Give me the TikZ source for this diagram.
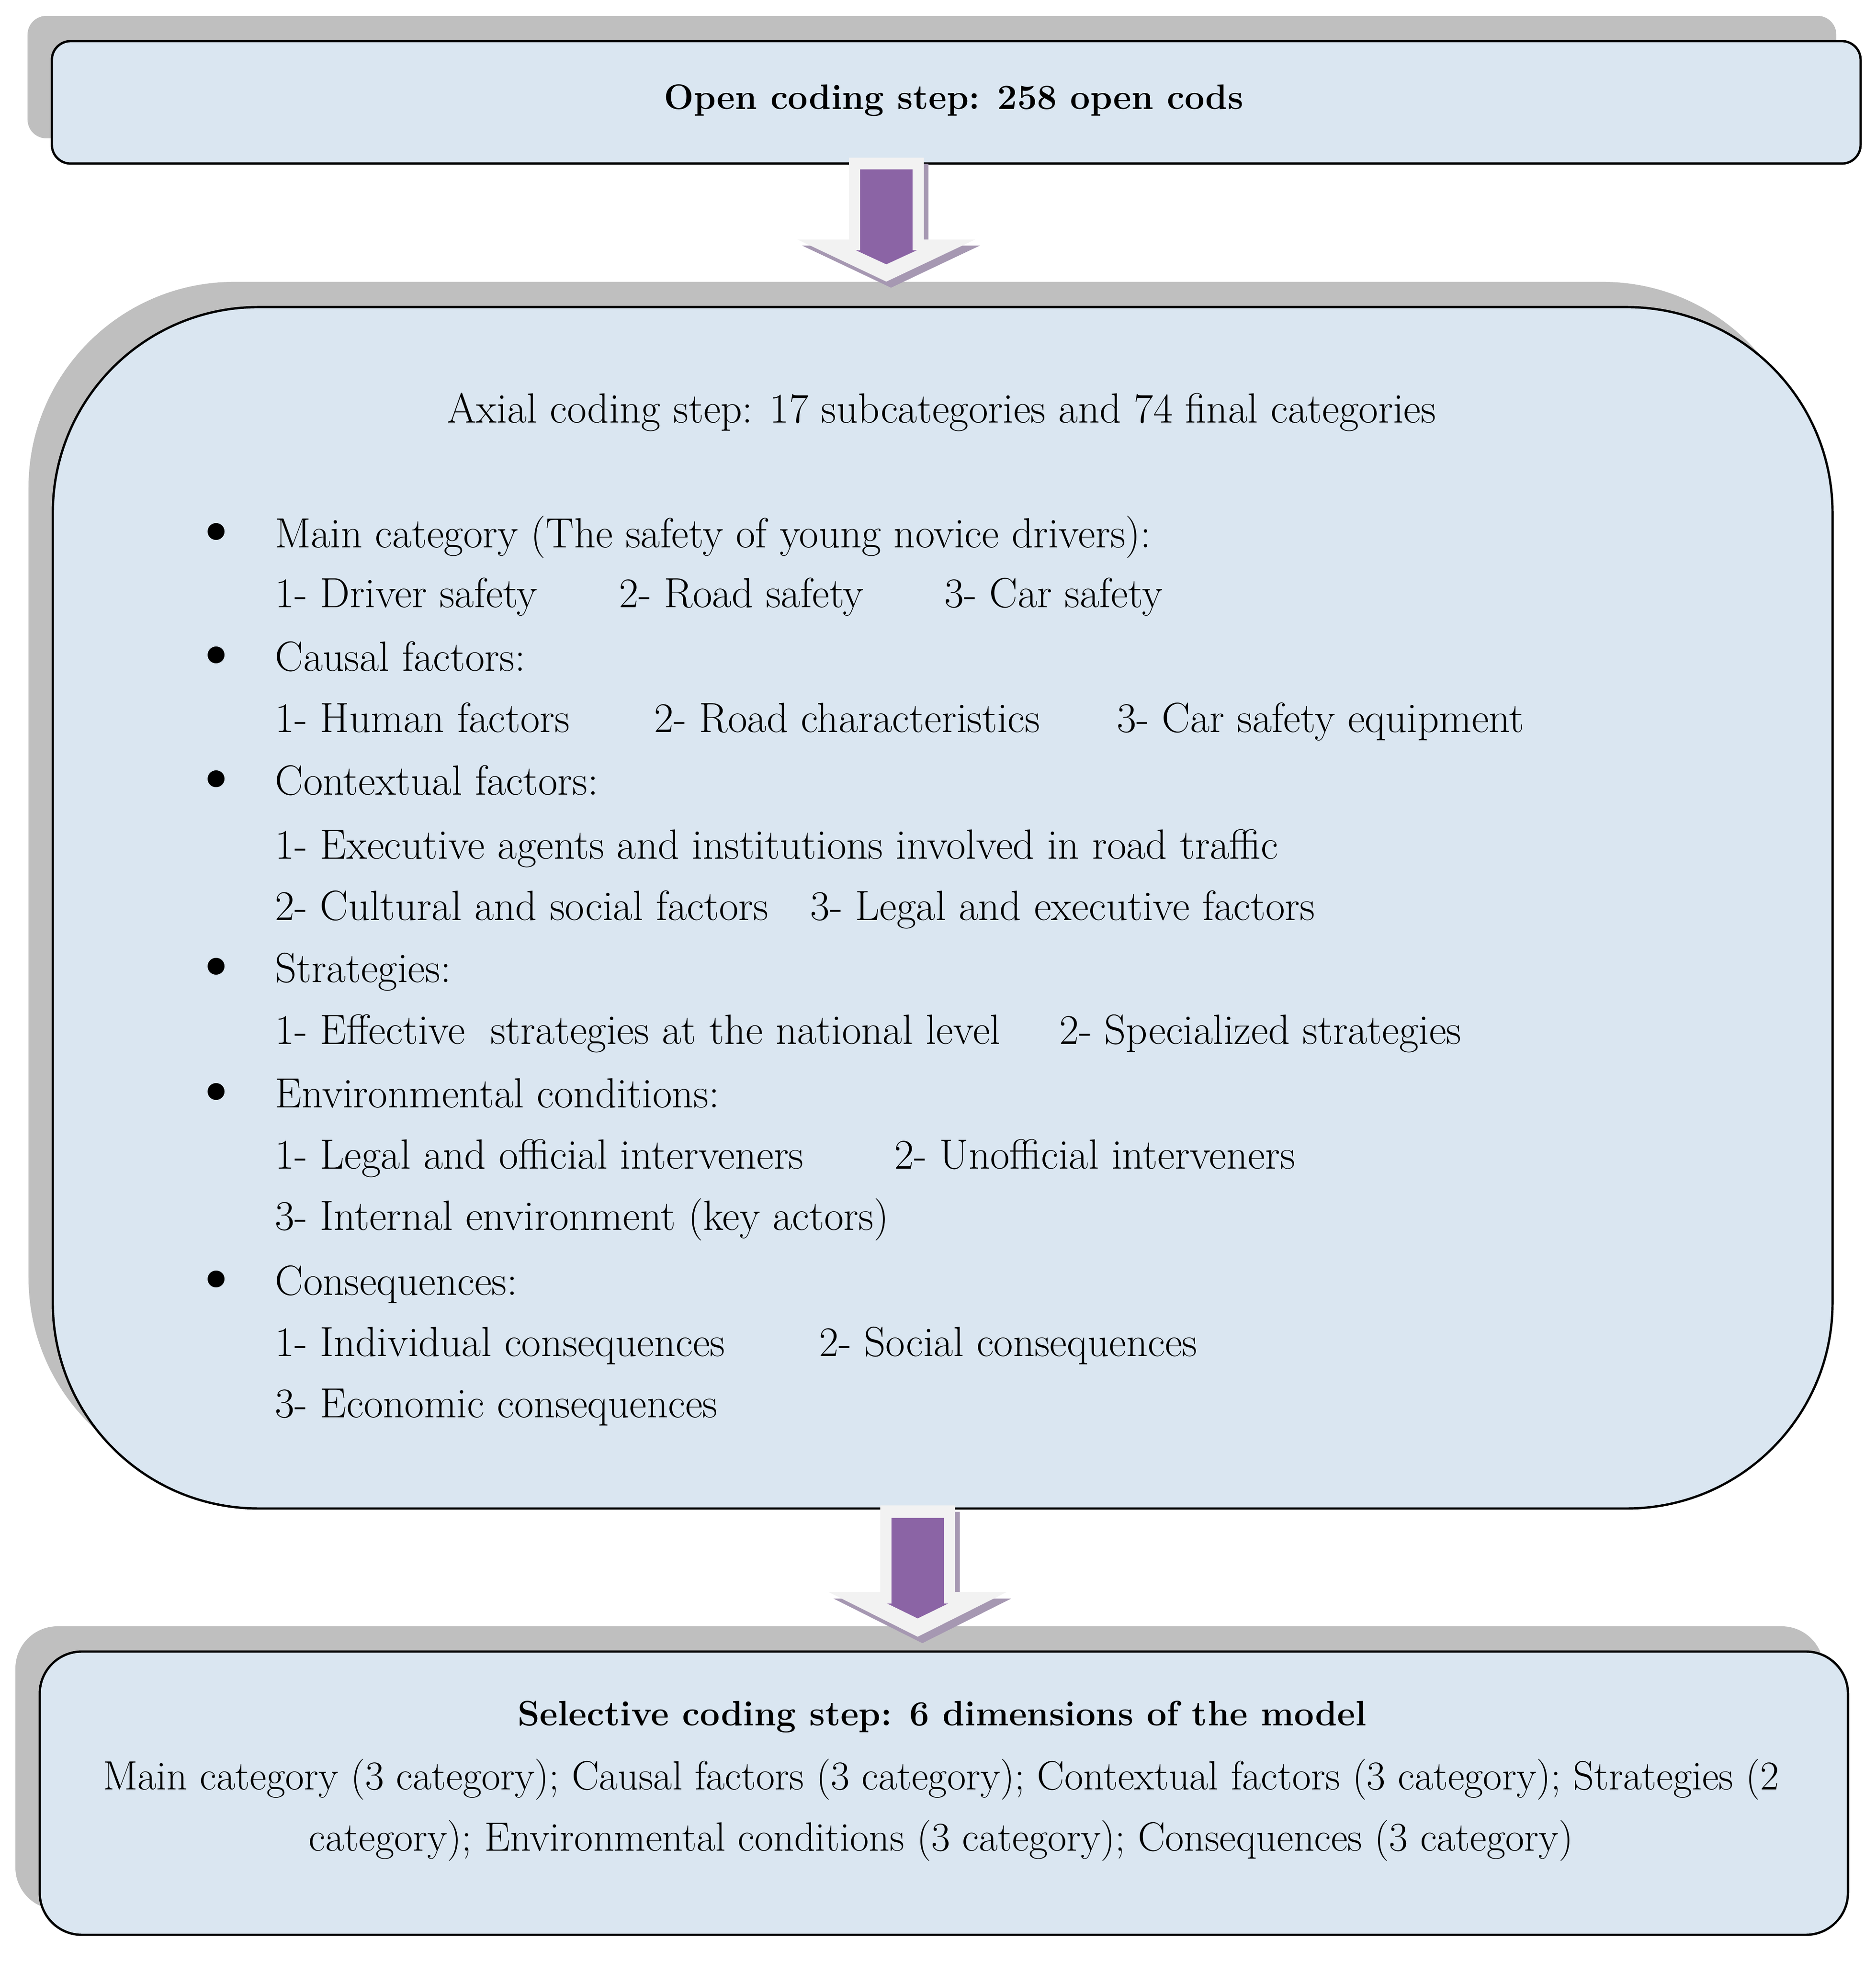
\documentclass[tikz,border=0pt]{standalone}
\usepackage{xcolor}
\usepackage{tikz}
\usetikzlibrary{shapes,arrows,positioning,calc,shadows}

\definecolor{boxblue}{RGB}{218,230,241}
\definecolor{boxshadow}{RGB}{191,191,191}
\definecolor{arrowlight}{RGB}{242,242,242}
\definecolor{arrowpurple}{RGB}{139,100,165}
\definecolor{arrowshade}{RGB}{166,152,178}
\newcommand{\bodyfont}{\fontsize{25.7}{37}\selectfont}
\newcommand{\selfont}{\fontsize{24.9}{37}\selectfont}
\newcommand{\headfont}{\fontsize{21.5}{37}\selectfont\bfseries}
\newcommand{\dotfont}{\fontsize{46}{46}\selectfont}

\tikzset{
  codebox/.style={draw=black, line width=1.4pt, fill=boxblue, inner sep=0pt,
    drop shadow={shadow xshift=-0.52cm, shadow yshift=0.54cm, fill=boxshadow, opacity=1}},
  itemtext/.style={anchor=base west, inner sep=0pt, font=\bodyfont},
  centertext/.style={anchor=base, inner sep=0pt, font=\bodyfont},
  titletext/.style={anchor=base, inner sep=0pt, font=\headfont},
  bulletmark/.style={anchor=center, inner sep=0pt, font=\dotfont},
}

\begin{document}
\begin{tikzpicture}
\useasboundingbox (0,0) rectangle (40.12,41.95);

% the three coding steps
\node[codebox, rounded corners=0.4cm, minimum width=38.69cm, minimum height=2.62cm] (openbox) at (20.455,39.76) {};
\node[codebox, rounded corners=4.4cm, minimum width=38.07cm, minimum height=25.70cm] (axialbox) at (20.165,22.53) {};
\node[codebox, rounded corners=0.9cm, minimum width=38.68cm, minimum height=6.06cm] (selbox) at (20.19,3.59) {};

\node[titletext] (opentitle) at (20.40,39.61) {Open coding step: 258 open cods};

\node[centertext] (axialtitle) at (20.14,32.90) {Axial coding step: 17 subcategories and 74 final categories};

\foreach \y/\n in {30.23/1, 27.59/2, 24.94/3, 20.93/4, 18.25/5, 14.24/6}
  \node[bulletmark] (bullet\n) at (4.63,\y+0.22) {\textbullet};

\node[itemtext] (maincat) at (5.88,30.23) {Main category (The safety of young novice drivers):};
\node[itemtext] (main1) at (5.88,28.95) {1- Driver safety};
\node[itemtext] (main2) at (13.24,28.95) {2- Road safety};
\node[itemtext] (main3) at (20.20,28.95) {3- Car safety};

\node[itemtext] (causal) at (5.88,27.59) {Causal factors:};
\node[itemtext] (causal1) at (5.88,26.28) {1- Human factors};
\node[itemtext] (causal2) at (13.99,26.28) {2- Road characteristics};
\node[itemtext] (causal3) at (23.89,26.28) {3- Car safety equipment};

\node[itemtext] (context) at (5.88,24.94) {Contextual factors:};
\node[itemtext] (context1) at (5.88,23.57) {1- Executive agents and institutions involved in road traffic};
\node[itemtext] (context2) at (5.88,22.26) {2- Cultural and social factors};
\node[itemtext] (context3) at (17.33,22.26) {3- Legal and executive factors};

\node[itemtext] (strat) at (5.88,20.93) {Strategies:};
\node[itemtext] (strat1) at (5.88,19.61) {1- Effective\ \ strategies at the national level};
\node[itemtext] (strat2) at (22.66,19.61) {2- Specialized strategies};

\node[itemtext] (env) at (5.88,18.25) {Environmental conditions:};
\node[itemtext] (env1) at (5.88,16.94) {1- Legal and official interveners};
\node[itemtext] (env2) at (19.13,16.94) {2- Unofficial interveners};
\node[itemtext] (env3) at (5.88,15.63) {3- Internal environment (key actors)};

\node[itemtext] (conseq) at (5.88,14.24) {Consequences:};
\node[itemtext] (conseq1) at (5.88,12.93) {1- Individual consequences};
\node[itemtext] (conseq2) at (17.52,12.93) {2- Social consequences};
\node[itemtext] (conseq3) at (5.88,11.62) {3- Economic consequences};

\node[titletext] (seltitle) at (20.15,5.03) {Selective coding step: 6 dimensions of the model};
\node[centertext, font=\selfont] (selline1) at (20.13,3.66) {Main category (3 category); Causal factors (3 category); Contextual factors (3 category); Strategies (2};
\node[centertext, font=\selfont] (selline2) at (20.13,2.35) {category); Environmental conditions (3 category); Consequences (3 category)};

% block arrows between the steps
\coordinate (a1) at ([xshift=-1.495cm, yshift=0.15cm]openbox.south);
\coordinate (a2) at ([xshift=-0.535cm, yshift=0.09cm]axialbox.south);
\foreach \at/\len in {a1/1, a2/1.06} {
  \begin{scope}[shift={(\at)}, yscale=\len]
    \fill[arrowshade, shift={(0.1,-0.13)}] (-0.8,0) -- (0.8,0) -- (0.8,-1.75) -- (1.9,-1.75) -- (0,-2.65) -- (-1.9,-1.75) -- (-0.8,-1.75) -- cycle;
    \fill[arrowlight] (-0.8,0) -- (0.8,0) -- (0.8,-1.75) -- (1.9,-1.75) -- (0,-2.65) -- (-1.9,-1.75) -- (-0.8,-1.75) -- cycle;
    \fill[arrowpurple] (-0.56,-0.25) -- (0.56,-0.25) -- (0.56,-1.98) -- (0.65,-1.98) -- (0,-2.28) -- (-0.65,-1.98) -- (-0.56,-1.98) -- cycle;
  \end{scope}
}
\end{tikzpicture}
\end{document}
